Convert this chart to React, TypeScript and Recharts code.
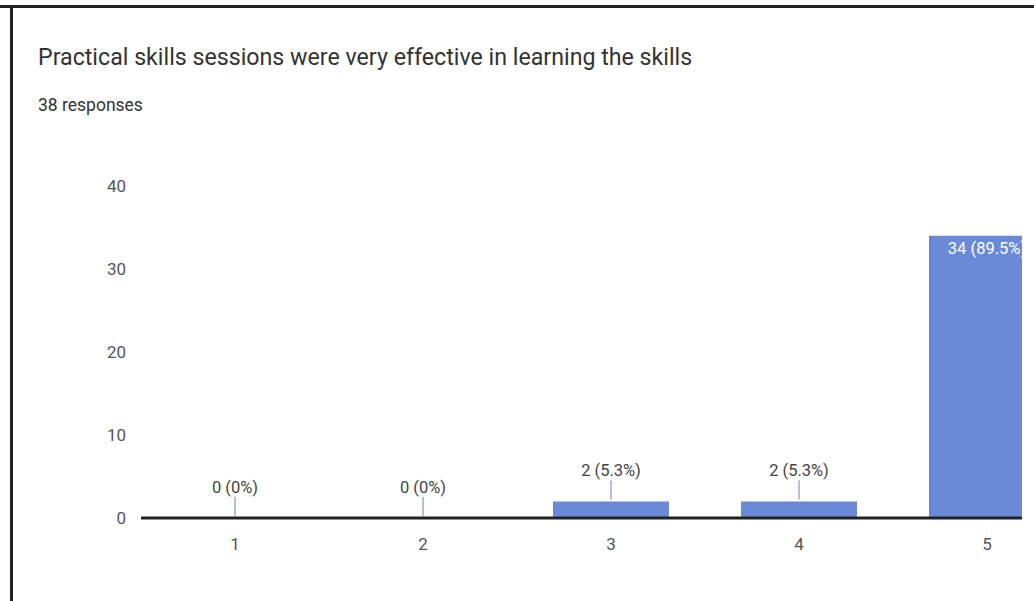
import React from "react";
import { ComposedChart, Bar, Line, XAxis, YAxis, LabelList } from "recharts";

const TITLE = "Practical skills sessions were very effective in learning the skills";
const RESPONSES = "38 responses";
const ratings = ["1", "2", "3", "4", "5"];
const counts = [0, 0, 2, 2, 34];
const yTicks = [0, 10, 20, 30, 40];

const total = counts.reduce((a, b) => a + b, 0);
const pct = (v: number) => {
  const p = Math.round((v / total) * 1000) / 10;
  return `${p}%`;
};

const data = ratings.map((r, i) => ({ rating: r, count: counts[i] }));

const BAR_COLOR = "#6a8ad8";
const TEXT = "#444";
const FONT = "Roboto, 'Noto Sans', sans-serif";

// labels are hung on an invisible line so that zero-height bars still get one
function BarLabel(props: any) {
  const { x, y, value } = props;
  const text = `${value} (${pct(value)})`;
  if (value > 10) {
    return (
      <text x={x} y={y + 13} fill="#fff" fontSize={16.5} textAnchor="middle" dominantBaseline="central" fontFamily={FONT}>
        {text}
      </text>
    );
  }
  return (
    <g>
      <line x1={x} x2={x} y1={y - 2} y2={y - 21} stroke="#9aaad0" strokeWidth={1.5} />
      <text x={x} y={y - 31} fill={TEXT} fontSize={16.5} textAnchor="middle" dominantBaseline="central" fontFamily={FONT}>
        {text}
      </text>
    </g>
  );
}

export default function App() {
  return (
    <div style={{ position: "fixed", inset: 0, background: "#fff", overflow: "hidden", fontFamily: FONT }}>
      <div style={{ position: "absolute", left: 0, right: 0, top: 5, height: 3, background: "#222" }} />
      <div style={{ position: "absolute", left: 10, top: 8, bottom: 0, width: 3, background: "#222" }} />
      <div style={{ position: "absolute", left: 38, top: 43, fontSize: 23.2, color: "#333", whiteSpace: "nowrap" }}>
        {TITLE}
      </div>
      <div style={{ position: "absolute", left: 38, top: 95, fontSize: 17.5, color: "#333" }}>{RESPONSES}</div>
      <div style={{ position: "absolute", left: 0, top: 150, width: 1022, height: 420, overflow: "hidden" }}>
        <ComposedChart width={1081} height={418} data={data} margin={{ top: 36, right: 0, bottom: 0, left: 0 }} barSize={116}>
          <XAxis
            dataKey="rating"
            height={50}
            tickLine={false}
            tickSize={0}
            tickMargin={20}
            axisLine={{ stroke: "#222", strokeWidth: 3 }}
            tick={{ fill: "#555", fontSize: 17, fontFamily: FONT }}
          />
          <YAxis
            width={141}
            domain={[0, 40]}
            ticks={yTicks}
            axisLine={false}
            tickLine={false}
            tickSize={0}
            tickMargin={15}
            tick={{ fill: "#555", fontSize: 17, fontFamily: FONT }}
          />
          <Bar dataKey="count" fill={BAR_COLOR} isAnimationActive={false} />
          <Line dataKey="count" stroke="none" dot={false} activeDot={false} isAnimationActive={false}>
            <LabelList dataKey="count" content={<BarLabel />} />
          </Line>
        </ComposedChart>
      </div>
    </div>
  );
}
